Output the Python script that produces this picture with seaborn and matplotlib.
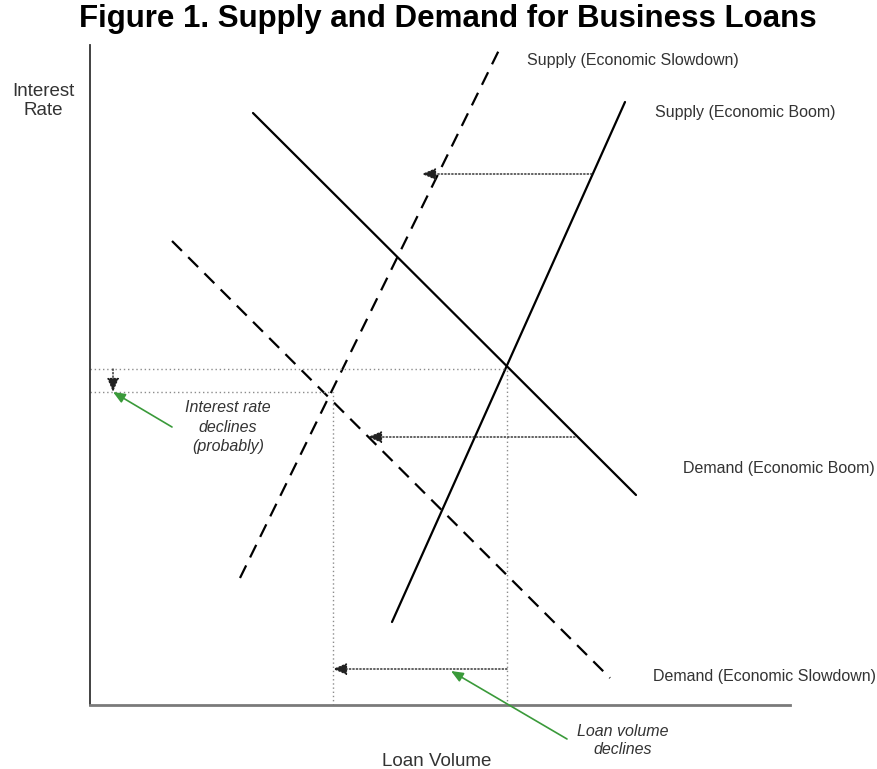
import numpy as np
import pandas as pd
import matplotlib
matplotlib.use("Agg")
import matplotlib.pyplot as plt
import seaborn as sns

# curves: endpoints (loan volume, interest rate), arbitrary units
curve_names = ["Supply (Economic Slowdown)", "Supply (Economic Boom)",
               "Demand (Economic Boom)", "Demand (Economic Slowdown)"]
curve_kind = ["slowdown", "boom", "boom", "slowdown"]
curve_x = [[150, 410], [302, 535], [163, 546], [82, 520]]
curve_y = [[127, 657], [83, 603], [592, 210], [464, 27]]

# equilibrium guide values
boom_eq_x, boom_eq_y = 417, 336
slow_eq_x, slow_eq_y = 243, 313

# shift arrows: (x_from, y_from, x_to, y_to)
shift_arrows = [
    (502, 531, 332, 531),   # supply shifts left
    (485, 268, 278, 268),   # demand shifts left
    (417, 36, 243, 36),     # loan volume declines
    (23, 336, 23, 313),     # interest rate declines
]
green_arrows = [
    (82, 278, 23, 313),
    (477, -34, 361, 34),
]

# curve label positions
label_x = [437, 565, 593, 563]
label_y = [645, 592, 237, 28]

rows = []
for name, kind, xs, ys in zip(curve_names, curve_kind, curve_x, curve_y):
    for xv, yv in zip(xs, ys):
        rows.append({"curve": name, "kind": kind, "volume": xv, "rate": yv})
df = pd.DataFrame(rows)

sns.set_theme(style="white")
plt.rcParams['font.family'] = ['Liberation Sans', 'DejaVu Sans']

fig = plt.figure(figsize=(8.78, 7.69), dpi=100)
ax = fig.add_axes([90 / 878, 64 / 769, 700 / 878, 660 / 769])

sns.lineplot(data=df, x="volume", y="rate", units="curve", estimator=None,
             style="kind", dashes={"boom": "", "slowdown": (6.3, 4)},
             color="black", linewidth=1.6, legend=False, ax=ax, sort=False)

# dotted guides to the axes
guide = dict(color="#8c8c8c", linestyle=(0, (1, 2)), linewidth=1)
ax.plot([0, boom_eq_x], [boom_eq_y, boom_eq_y], **guide)
ax.plot([boom_eq_x, boom_eq_x], [0, boom_eq_y], **guide)
ax.plot([0, slow_eq_x], [slow_eq_y, slow_eq_y], **guide)
ax.plot([slow_eq_x, slow_eq_x], [0, slow_eq_y], **guide)

for x0, y0, x1, y1 in shift_arrows:
    ax.annotate("", xy=(x1, y1), xytext=(x0, y0),
                arrowprops=dict(arrowstyle="-|>,head_length=0.7,head_width=0.3",
                                color="#222222", linestyle=(0, (1, 1.5)),
                                linewidth=1, shrinkA=0, shrinkB=0))

for x0, y0, x1, y1 in green_arrows:
    ax.annotate("", xy=(x1, y1), xytext=(x0, y0), annotation_clip=False,
                arrowprops=dict(arrowstyle="-|>,head_length=0.6,head_width=0.25",
                                color="#3a9a3a", linewidth=1.2,
                                shrinkA=0, shrinkB=0))

for name, lx, ly in zip(curve_names, label_x, label_y):
    ax.text(lx, ly, name, fontsize=11.5, color="#333333", ha="left",
            va="center", clip_on=False)

ax.text(138, 278, "Interest rate\ndeclines\n(probably)", fontsize=11.5,
        style="italic", color="#333333", ha="center", va="center",
        linespacing=1.35, clip_on=False)
ax.text(533, -35, "Loan volume\ndeclines", fontsize=11.5, style="italic",
        color="#333333", ha="center", va="center", linespacing=1.25,
        clip_on=False)

ax.text(-47, 604, "Interest\nRate", fontsize=13.5, color="#333333",
        ha="center", va="center", linespacing=1.15, clip_on=False)
ax.text(347, -57, "Loan Volume", fontsize=13.5, color="#333333",
        ha="center", va="center", clip_on=False)

fig.text(448 / 878, 1 - 19 / 769, "Figure 1. Supply and Demand for Business Loans",
         fontsize=22.5, fontweight="bold", color="black", ha="center", va="center")

ax.set_xlim(0, 700)
ax.set_ylim(0, 660)
ax.set_xticks([])
ax.set_yticks([])
ax.set_xlabel("")
ax.set_ylabel("")
for side in ["top", "right"]:
    ax.spines[side].set_visible(False)
ax.spines["left"].set_color("#333333")
ax.spines["left"].set_linewidth(1.3)
ax.spines["bottom"].set_color("#7a7a7a")
ax.spines["bottom"].set_linewidth(2)
ax.patch.set_alpha(0)

fig.savefig("out.png", dpi=100)
